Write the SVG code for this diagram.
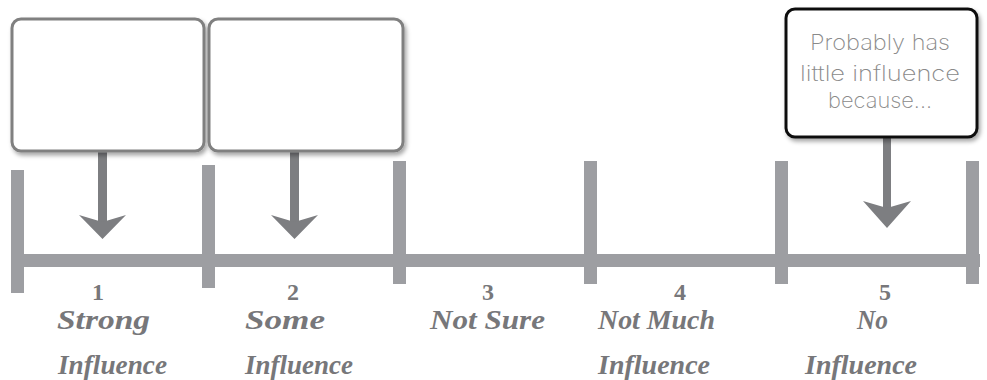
<svg xmlns="http://www.w3.org/2000/svg" width="987" height="380" viewBox="0 0 987 380">
<defs>
<filter id="sh" x="-10%" y="-10%" width="125%" height="130%">
<feDropShadow dx="2" dy="3" stdDeviation="2.2" flood-color="#000" flood-opacity="0.35"/>
</filter>
</defs>
<style>
.scale{fill:#9d9ea2}
.arr{fill:#7d7e81}
.box{fill:#fff;stroke:#808080;stroke-width:3;filter:url(#sh)}
.box3{fill:#fff;stroke:#111;stroke-width:3;filter:url(#sh)}
.num{font-family:"Liberation Serif",serif;font-weight:bold;font-size:24px;fill:#77777a;text-anchor:middle}
.lab{font-family:"Liberation Serif",serif;font-weight:bold;font-style:italic;font-size:27px;fill:#77777a}
.hand{font-family:Inter,"DejaVu Sans",sans-serif;font-weight:200;font-size:21px;fill:#8a8a8a;text-anchor:middle}
</style>
<g id="scale">
<rect class="scale" x="11" y="254" width="969" height="13"/>
<rect class="scale" x="11" y="170" width="13" height="123"/>
<rect class="scale" x="202" y="165" width="13" height="123"/>
<rect class="scale" x="393" y="161" width="13" height="123"/>
<rect class="scale" x="584" y="161" width="13" height="123"/>
<rect class="scale" x="775" y="161" width="13" height="123"/>
<rect class="scale" x="966" y="161" width="13" height="123"/>
</g>
<g id="connectors">
<rect class="arr" x="98" y="151" width="9" height="74"/>
<polygon class="arr" points="79,215 102.5,222 126,215 102.5,239"/>
<rect class="arr" x="290" y="151" width="9" height="74"/>
<polygon class="arr" points="271,215 294.5,222 318,215 294.5,239"/>
<rect class="arr" x="883" y="138" width="8" height="72"/>
<polygon class="arr" points="863,201 887,208 911,201 887,228"/>
</g>
<g id="box1">
<rect class="box" x="12" y="19" width="192" height="132" rx="9"/>
</g>
<g id="box2">
<rect class="box" x="209" y="19" width="194" height="132" rx="9"/>
</g>
<g id="box3">
<rect class="box3" x="786" y="9" width="191" height="128" rx="9"/>
<text class="hand" x="880" y="50" textLength="140" lengthAdjust="spacingAndGlyphs">Probably has</text>
<text class="hand" x="880" y="81" textLength="160" lengthAdjust="spacingAndGlyphs">little influence</text>
<text class="hand" x="880" y="108" textLength="104" lengthAdjust="spacingAndGlyphs">because...</text>
</g>
<g id="label1">
<text class="num" x="98" y="300">1</text>
<text class="lab" x="57" y="329" textLength="93" lengthAdjust="spacingAndGlyphs">Strong</text>
<text class="lab" x="58" y="374" textLength="109" lengthAdjust="spacingAndGlyphs">Influence</text>
</g>
<g id="label2">
<text class="num" x="293" y="300">2</text>
<text class="lab" x="245" y="329" textLength="80" lengthAdjust="spacingAndGlyphs">Some</text>
<text class="lab" x="245" y="374" textLength="108" lengthAdjust="spacingAndGlyphs">Influence</text>
</g>
<g id="label3">
<text class="num" x="488" y="300">3</text>
<text class="lab" x="430" y="329" textLength="115" lengthAdjust="spacingAndGlyphs">Not Sure</text>
</g>
<g id="label4">
<text class="num" x="680" y="300">4</text>
<text class="lab" x="598" y="329" textLength="117" lengthAdjust="spacingAndGlyphs">Not Much</text>
<text class="lab" x="598" y="374" textLength="112" lengthAdjust="spacingAndGlyphs">Influence</text>
</g>
<g id="label5">
<text class="num" x="885" y="300">5</text>
<text class="lab" x="857" y="329" textLength="31" lengthAdjust="spacingAndGlyphs">No</text>
<text class="lab" x="805" y="374" textLength="112" lengthAdjust="spacingAndGlyphs">Influence</text>
</g>
</svg>
